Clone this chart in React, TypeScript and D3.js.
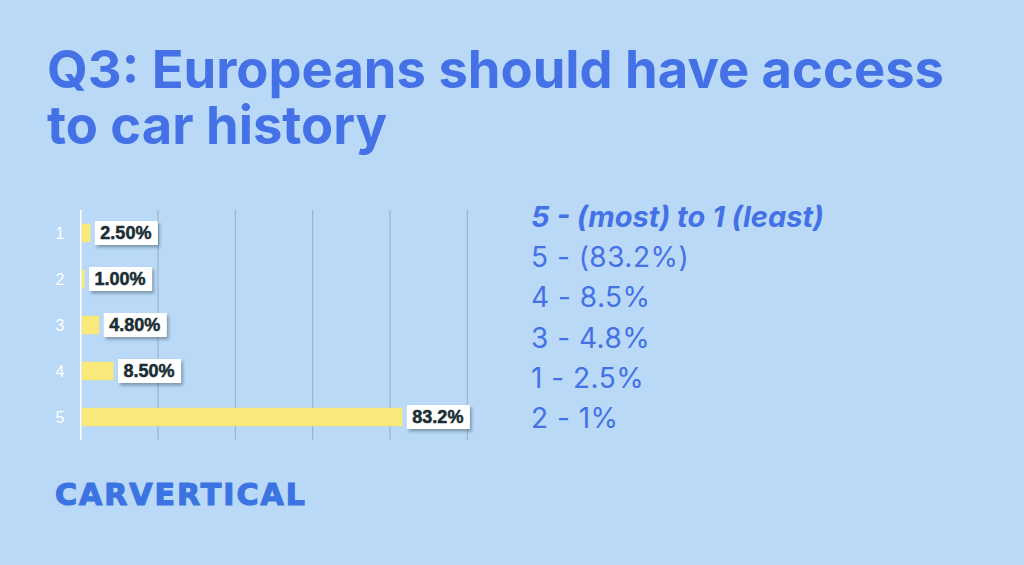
import React from "react";
import * as d3 from "d3";

const categories = ["1", "2", "3", "4", "5"];
const values = [2.5, 1.0, 4.8, 8.5, 83.2];
const valueLabels = ["2.50%", "1.00%", "4.80%", "8.50%", "83.2%"];
const xTicks = [0, 20, 40, 60, 80, 100];
const titleLines = ["Q3: Europeans should have access", "to car history"];
const legendHeader = "5 - (most) to 1 (least)";
const legendLines = ["5 - (83.2%)", "4 - 8.5%", "3 - 4.8%", "1 - 2.5%", "2 - 1%"];

const W = 1024;
const H = 565;
const BG = "#b9d9f7";
const BLUE = "#4472e6";

export default function App() {
  const x = d3.scaleLinear().domain([0, 100]).range([80.7, 467.3]);
  const y = d3
    .scaleBand<string>()
    .domain(categories)
    .range([210, 440])
    .paddingInner(0.6)
    .paddingOuter(0.3);

  return (
    <div style={{ position: "fixed", left: 0, top: 0, width: W, height: H }}>
      <svg width={W} height={H} style={{ display: "block" }}>
        <defs>
          <filter id="sh" x="-20%" y="-30%" width="150%" height="180%">
            <feDropShadow dx="2" dy="2.5" stdDeviation="1.6" floodColor="#34485c" floodOpacity="0.45" />
          </filter>
        </defs>
        <rect width={W} height={H} fill={BG} />
        <foreignObject x={47} y={41} width={960} height={120}>
          <div
            style={{
              margin: 0,
              color: BLUE,
              fontFamily: "Inter, Roboto, sans-serif",
              fontWeight: 700,
              fontSize: "52.5px",
              lineHeight: "56px",
              whiteSpace: "nowrap",
            }}
          >
            {titleLines.map((t, i) => (
              <div key={i}>{t}</div>
            ))}
          </div>
        </foreignObject>
        {xTicks.map((t) => (
          <line
            key={t}
            x1={x(t)}
            x2={x(t)}
            y1={210}
            y2={440}
            stroke={t === 0 ? "#ffffff" : "#95adc6"}
            strokeWidth={t === 0 ? 1.6 : 1}
          />
        ))}
        {categories.map((c, i) => {
          const yy = y(c)!;
          const bw = y.bandwidth();
          const cy = yy + bw / 2;
          const xe = x(values[i]);
          const boxX = xe + 4.5;
          const boxW = valueLabels[i].length * 10.2 + 12;
          return (
            <g key={c}>
              <text
                x={60}
                y={cy}
                dy="0.36em"
                textAnchor="middle"
                fill="#ffffff"
                fontFamily="Liberation Sans, Arial, sans-serif"
                fontSize={16}
              >
                {c}
              </text>
              <rect x={x(0) + 1} y={yy} width={Math.max(0, xe - x(0) - 1)} height={bw} fill="#f8e97a" />
              <rect x={boxX} y={cy - 12} width={boxW} height={24} fill="#ffffff" filter="url(#sh)" />
              <text
                x={boxX + 5.5}
                y={cy}
                dy="0.36em"
                fill="#1b2d34"
                fontFamily="Liberation Sans, Arial, sans-serif"
                fontWeight={700}
                fontSize={18}
                stroke="#1b2d34"
                strokeWidth={0.5}
              >
                {valueLabels[i]}
              </text>
            </g>
          );
        })}
        <text
          x={531}
          y={227}
          fill={BLUE}
          fontFamily="Inter, Roboto, sans-serif"
          fontWeight={700}
          fontStyle="italic"
          fontSize={29}
        >
          {legendHeader}
        </text>
        {legendLines.map((t, i) => (
          <text
            key={i}
            x={531}
            y={267 + i * 40.3}
            fill={BLUE}
            fontFamily="Inter, Roboto, sans-serif"
            fontWeight={400}
            fontSize={28}
            letterSpacing={0.5}
          >
            {t}
          </text>
        ))}
        <text
          x={55}
          y={505}
          fill="#3b74e2"
          fontFamily="DejaVu Sans, sans-serif"
          fontWeight={700}
          fontSize={30}
          letterSpacing={2}
          stroke="#3b74e2"
          strokeWidth={1.2}
        >
          CARVERTICAL
        </text>
      </svg>
    </div>
  );
}
